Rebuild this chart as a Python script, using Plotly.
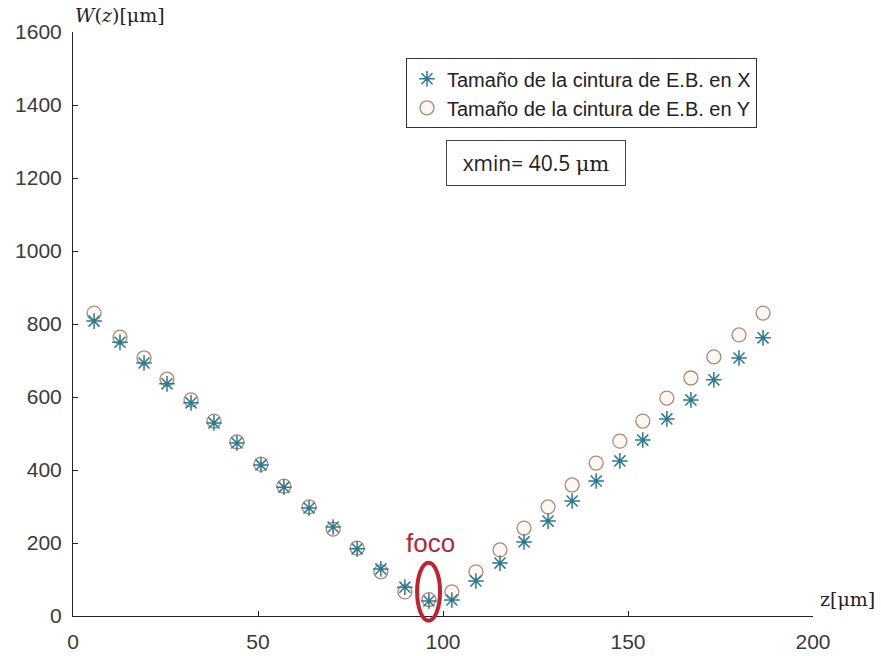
import plotly.graph_objects as go

z = [5.7, 12.7, 19.2, 25.4, 31.9, 38.1, 44.3, 50.8, 57.0, 63.8, 70.3, 76.8, 83.2, 89.7, 96.2,
     102.4, 108.9, 115.4, 121.9, 128.4, 134.9, 141.4, 147.8, 154.0, 160.5, 167.0, 173.2, 180.0, 186.5]
wx = [808, 750, 693, 636, 584, 529, 474, 414, 353, 296, 244, 184, 129, 79, 41,
      44, 96, 145, 203, 260, 315, 370, 425, 482, 540, 592, 647, 707, 762]
wy = [830, 764, 707, 649, 592, 534, 477, 416, 356, 299, 238, 186, 121, 66, 45,
      66, 121, 181, 241, 299, 359, 419, 479, 534, 597, 652, 710, 770, 830]

name_x = "Tamaño de la cintura de E.B. en X"
name_y = "Tamaño de la cintura de E.B. en Y"
xticks = [0, 50, 100, 150, 200]
yticks = [0, 200, 400, 600, 800, 1000, 1200, 1400, 1600]

fig = go.Figure()
fig.add_trace(go.Scatter(x=z, y=wy, mode="markers", name=name_y, legendrank=2,
                         marker=dict(symbol="circle", size=14, color="rgba(250,240,230,0.5)",
                                     line=dict(color="#a88c76", width=1.3))))
fig.add_trace(go.Scatter(x=z, y=wx, mode="markers", name=name_x, legendrank=1,
                         marker=dict(symbol="asterisk-open", size=13, color="#2b7a91",
                                     line=dict(color="#2b7a91", width=1.5))))

fig.update_layout(
    width=881, height=656, paper_bgcolor="white", plot_bgcolor="white",
    margin=dict(l=73, r=68, t=32, b=40, autoexpand=False),
    font=dict(family="Liberation Sans, Arial", size=21, color="#3a3a3a"),
    xaxis=dict(range=[0, 200], tickvals=xticks, showgrid=False, zeroline=False,
               showline=True, linecolor="#222", linewidth=1, ticks="inside", ticklen=5,
               tickcolor="#222", mirror=False, ticklabelstandoff=7, automargin=False),
    yaxis=dict(range=[0, 1600], tickvals=yticks, showgrid=False, zeroline=False,
               showline=True, linecolor="#222", linewidth=1, ticks="inside", ticklen=5,
               tickcolor="#222", ticklabelstandoff=6, automargin=False),
    legend=dict(x=0.45, y=0.955, xanchor="left", yanchor="top", bordercolor="#333",
                borderwidth=1, bgcolor="white", font=dict(size=20, color="#222"),
                itemwidth=30, tracegroupgap=0),
    showlegend=True,
)

fig.add_annotation(xref="paper", yref="paper", x=0.626, y=0.776, xanchor="center", yanchor="middle",
                   showarrow=False,
                   text="xmin= 40.5 <span style='font-family:DejaVu Serif'>μm</span>",
                   font=dict(family="Open Sans", size=21, color="#222"),
                   bordercolor="#444", borderwidth=1, borderpad=8, width=162, bgcolor="white")
fig.add_annotation(xref="paper", yref="paper", x=0.0, y=1.0, xanchor="left", yanchor="bottom",
                   yshift=4, showarrow=False,
                   text="<i>W</i>(<i>z</i>)[μm]",
                   font=dict(family="DejaVu Serif", size=19, color="#222"))
fig.add_annotation(xref="paper", yref="paper", x=1.0, y=0.0, xanchor="left", yanchor="bottom",
                   xshift=5, yshift=4, showarrow=False,
                   text="z[μm]",
                   font=dict(family="DejaVu Serif", size=19, color="#222"))
fig.add_annotation(xref="x", yref="y", x=96.5, y=200, showarrow=False, text="foco",
                   font=dict(family="Liberation Sans, Arial", size=26, color="#b0283a"))
fig.add_shape(type="circle", xref="paper", yref="paper", x0=0.465, x1=0.496, y0=-0.008, y1=0.091,
              line=dict(color="#c0232f", width=4))

fig.write_html("out.html")
